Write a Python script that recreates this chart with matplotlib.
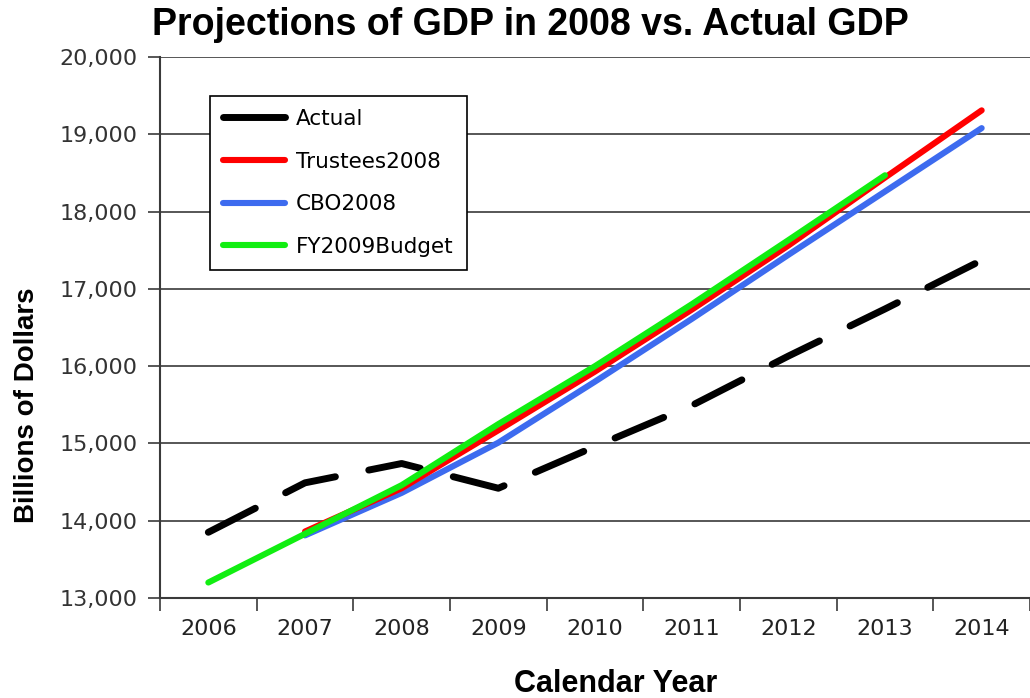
# Projections of GDP made in 2008 compared with actual GDP
import matplotlib
matplotlib.use("Agg")
import matplotlib.pyplot as plt
from matplotlib.lines import Line2D
from matplotlib.ticker import FuncFormatter, MultipleLocator

# Data (billions of dollars)
years = ["2006", "2007", "2008", "2009", "2010", "2011", "2012", "2013", "2014"]
actual = [13850, 14490, 14740, 14420, 14960, 15490, 16130, 16740, 17370]
trustees_years = ["2007", "2008", "2009", "2010", "2011", "2012", "2013", "2014"]
trustees = [13860, 14420, 15170, 15930, 16730, 17560, 18440, 19310]
cbo_years = ["2007", "2008", "2009", "2010", "2011", "2012", "2013", "2014"]
cbo = [13810, 14360, 15010, 15800, 16610, 17440, 18260, 19080]
budget_years = ["2006", "2007", "2008", "2009", "2010", "2011", "2012", "2013"]
budget = [13200, 13830, 14460, 15250, 16000, 16800, 17630, 18470]

plt.rcParams["font.family"] = ["Liberation Sans", "DejaVu Sans"]
plain = "DejaVu Sans"   # wider face for ticks and legend, like the original

fig = plt.figure(figsize=(10.3, 6.98), dpi=100)
ax = fig.add_axes([160 / 1030, 0.1433, 870 / 1030, 0.775])

pos = {y: i for i, y in enumerate(years)}

ax.plot([pos[y] for y in years], actual, color="black", lw=5,
        dashes=(7.6, 4.9), dash_capstyle="round", solid_capstyle="round",
        label="Actual", zorder=3)
ax.plot([pos[y] for y in cbo_years], cbo, color="#3d6bef", lw=4.4,
        solid_capstyle="round", label="CBO2008", zorder=4)
ax.plot([pos[y] for y in trustees_years], trustees, color="#ff0000", lw=4.4,
        solid_capstyle="round", label="Trustees2008", zorder=5)
ax.plot([pos[y] for y in budget_years], budget, color="#11ee11", lw=4.4,
        solid_capstyle="round", label="FY2009Budget", zorder=6)

# axes and grid
ax.set_xlim(-0.5, 8.36)
ax.set_ylim(13000, 20000)
ax.yaxis.set_major_locator(MultipleLocator(1000))
ax.yaxis.set_major_formatter(FuncFormatter(lambda v, p: f"{int(v):,}"))
ax.grid(axis="y", color="#3a3a3a", lw=1.2)
ax.set_axisbelow(True)

ax.set_xticks(range(len(years)))
ax.set_xticklabels(years)
ax.set_xticks([i - 0.5 for i in range(len(years) + 1)], minor=True)
ax.tick_params(axis="x", which="major", length=0, pad=15, labelsize=16,
               labelcolor="#222222")
ax.tick_params(axis="x", which="minor", length=9, width=1.2, color="#3a3a3a")
ax.tick_params(axis="y", length=9, width=1.2, color="#3a3a3a", pad=7,
               labelsize=16, labelcolor="#333333")
for lab in ax.get_xticklabels() + ax.get_yticklabels():
    lab.set_family(plain)

for s in ["top", "right"]:
    ax.spines[s].set_visible(False)
for s in ["left", "bottom"]:
    ax.spines[s].set_color("#3a3a3a")
    ax.spines[s].set_linewidth(1.5)

# legend (order as in the original)
handles, labels = ax.get_legend_handles_labels()
order = ["Actual", "Trustees2008", "CBO2008", "FY2009Budget"]
hmap = dict(zip(labels, handles))
leg_handles = [Line2D([], [], color="black", lw=5, solid_capstyle="round")]
leg_handles += [hmap[l] for l in order[1:]]
leg = ax.legend(leg_handles, order, loc="upper left",
                bbox_to_anchor=(210 / 1030, 1 - 96 / 698),
                bbox_transform=fig.transFigure, fancybox=False,
                edgecolor="black", framealpha=1,
                prop={"family": plain, "size": 15.5},
                handlelength=2.9, handletextpad=0.5, labelspacing=1.05,
                borderpad=0.6, borderaxespad=0)
leg.get_frame().set_linewidth(1.2)

# titles
fig.text(530 / 1030, 1 - 25 / 698, "Projections of GDP in 2008 vs. Actual GDP",
         ha="center", va="center", fontsize=27, fontweight="bold")
fig.text(616 / 1030, 1 - 684 / 698, "Calendar Year", ha="center", va="center",
         fontsize=22, fontweight="bold")
fig.text(27 / 1030, 1 - 405 / 698, "Billions of Dollars", ha="center",
         va="center", rotation=90, fontsize=20, fontweight="bold")

fig.savefig("out.png", dpi=100)
